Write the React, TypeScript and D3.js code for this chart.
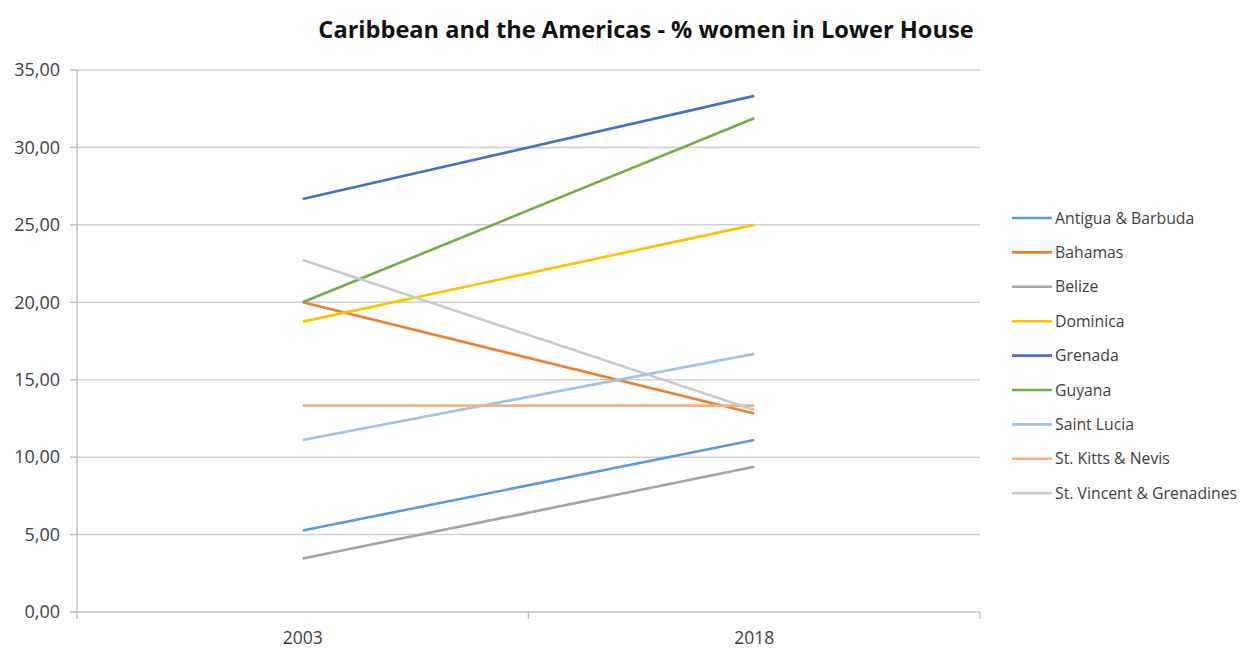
import React from "react";
import * as d3 from "d3";

const years = ["2003", "2018"];
const countries = [
  "Antigua & Barbuda",
  "Bahamas",
  "Belize",
  "Dominica",
  "Grenada",
  "Guyana",
  "Saint Lucia",
  "St. Kitts & Nevis",
  "St. Vincent & Grenadines",
];
const values2003 = [5.26, 20.0, 3.45, 18.75, 26.67, 20.0, 11.11, 13.33, 22.73];
const values2018 = [11.11, 12.82, 9.38, 25.0, 33.33, 31.88, 16.67, 13.33, 13.04];
const colors = [
  "#5B9BD5",
  "#ED7D31",
  "#A5A5A5",
  "#FFC000",
  "#4472C4",
  "#70AD47",
  "#9DC3E6",
  "#F4B183",
  "#C9C9C9",
];
const yTicks = [0, 5, 10, 15, 20, 25, 30, 35];
const title = "Caribbean and the Americas - % women in Lower House";

const W = 1244;
const H = 648;
const plot = { left: 77, right: 980, top: 70, bottom: 612 };
const font = "'Open Sans', 'Liberation Sans', sans-serif";

export default function App() {
  const x = d3.scaleBand<string>().domain(years).range([plot.left, plot.right]);
  const y = d3.scaleLinear().domain([0, 35]).range([plot.bottom, plot.top]);
  const fmt = (v: number) => v.toFixed(2).replace(".", ",");
  const line = d3
    .line<{ year: string; v: number }>()
    .x((d) => (x(d.year) as number) + x.bandwidth() / 2)
    .y((d) => y(d.v));

  const series = countries.map((c, i) => ({
    name: c,
    color: colors[i],
    pts: [
      { year: years[0], v: values2003[i] },
      { year: years[1], v: values2018[i] },
    ],
  }));

  const legendTop = 218;
  const legendStep = 34.4;

  return (
    <svg
      width={W}
      height={H}
      style={{ position: "absolute", left: 0, top: 0, background: "#fff" }}
    >
      <rect width={W} height={H} fill="#fff" />
      <text
        x={646}
        y={38}
        textAnchor="middle"
        fontFamily={font}
        fontWeight="bold"
        fontSize={23.6}
        fill="#111"
      >
        {title}
      </text>
      {yTicks.map((t) => (
        <g key={t}>
          <line
            x1={plot.left}
            x2={plot.right}
            y1={y(t)}
            y2={y(t)}
            stroke={t === 0 ? "#bfbfbf" : "#d0d0d0"}
            strokeWidth={1.5}
          />
          <line x1={plot.left - 7} x2={plot.left} y1={y(t)} y2={y(t)} stroke="#bfbfbf" strokeWidth={1.5} />
          <text
            x={60}
            y={y(t)}
            dy="0.35em"
            textAnchor="end"
            fontFamily={font}
            fontSize={18}
            fill="#404040"
          >
            {fmt(t)}
          </text>
        </g>
      ))}
      <line x1={plot.left} x2={plot.left} y1={plot.top} y2={plot.bottom + 7} stroke="#bfbfbf" strokeWidth={1.5} />
      {[plot.left + x.bandwidth(), plot.right].map((tx, i) => (
        <line key={i} x1={tx} x2={tx} y1={plot.bottom} y2={plot.bottom + 7} stroke="#bfbfbf" strokeWidth={1.5} />
      ))}
      {years.map((yr) => (
        <text
          key={yr}
          x={(x(yr) as number) + x.bandwidth() / 2}
          y={638}
          dy="0.35em"
          textAnchor="middle"
          fontFamily={font}
          fontSize={17.5}
          fill="#404040"
        >
          {yr}
        </text>
      ))}
      {series.map((s) => (
        <path key={s.name} d={line(s.pts) || ""} fill="none" stroke={s.color} strokeWidth={2.6} />
      ))}
      {series.map((s, i) => {
        const ly = legendTop + i * legendStep;
        return (
          <g key={s.name}>
            <line x1={1012} x2={1052} y1={ly} y2={ly} stroke={s.color} strokeWidth={2.6} />
            <text x={1055} y={ly} dy="0.35em" fontFamily={font} fontSize={15.8} fill="#404040">
              {s.name}
            </text>
          </g>
        );
      })}
    </svg>
  );
}
